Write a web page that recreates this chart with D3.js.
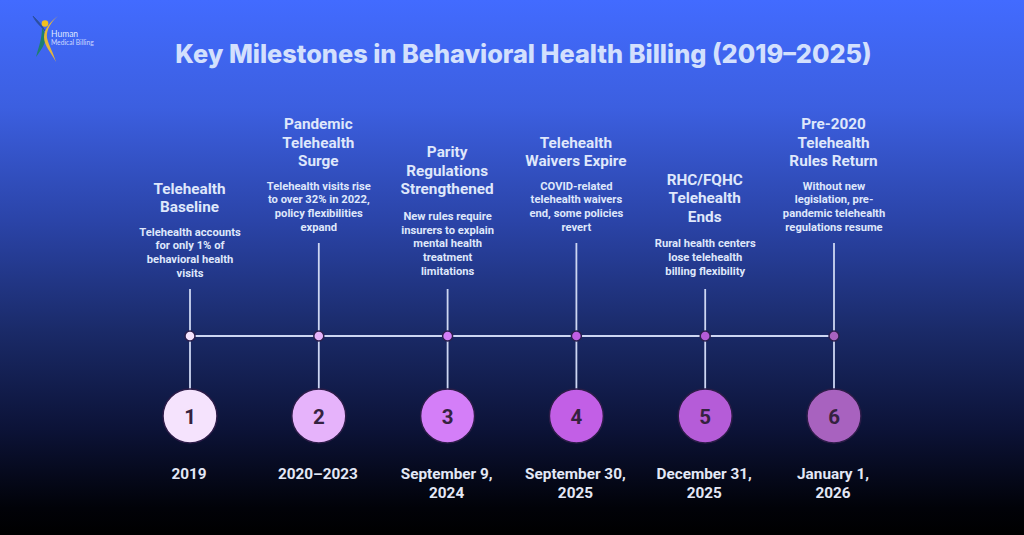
<!DOCTYPE html>
<html>
<head>
<meta charset="utf-8">
<script src="https://cdn.jsdelivr.net/npm/d3@7"></script>
<style>
  html, body { margin: 0; padding: 0; background: #000; }
  svg { display: block; }
</style>
</head>
<body>
<svg id="chart" width="1024" height="535"></svg>
<script>
const chartTitle = 'Key Milestones in Behavioral Health Billing (2019–2025)';
const steps = [1, 2, 3, 4, 5, 6];
const titles = [
  ['Telehealth', 'Baseline'],
  ['Pandemic', 'Telehealth', 'Surge'],
  ['Parity', 'Regulations', 'Strengthened'],
  ['Telehealth', 'Waivers Expire'],
  ['RHC/FQHC', 'Telehealth', 'Ends'],
  ['Pre-2020', 'Telehealth', 'Rules Return']
];
const descriptions = [
  ['Telehealth accounts', 'for only 1% of', 'behavioral health', 'visits'],
  ['Telehealth visits rise', 'to over 32% in 2022,', 'policy flexibilities', 'expand'],
  ['New rules require', 'insurers to explain', 'mental health', 'treatment', 'limitations'],
  ['COVID-related', 'telehealth waivers', 'end, some policies', 'revert'],
  ['Rural health centers', 'lose telehealth', 'billing flexibility'],
  ['Without new', 'legislation, pre-', 'pandemic telehealth', 'regulations resume']
];
const dates = [
  ['2019'],
  ['2020–2023'],
  ['September 9,', '2024'],
  ['September 30,', '2025'],
  ['December 31,', '2025'],
  ['January 1,', '2026']
];
const stepColors = ['#f5e3fd', '#e6b3fb', '#d47ef8', '#c25fe6', '#b55cd8', '#a862bf'];

const svg = d3.select('#chart');
const defs = svg.append('defs');
const bg = defs.append('linearGradient').attr('id', 'bg')
  .attr('x1', 0).attr('y1', 0).attr('x2', 0).attr('y2', 1);
[[0, '#426bff'], [0.2, '#3c5fe0'], [0.42, '#2a43a6'], [0.62, '#1a2a68'], [0.8, '#0c1338'], [0.95, '#010208'], [1, '#000']]
  .forEach(d => bg.append('stop').attr('offset', d[0]).attr('stop-color', d[1]));
svg.append('rect').attr('width', 1024).attr('height', 535).attr('fill', 'url(#bg)');

const scaleX = d3.scalePoint().domain(steps).range([190, 834]);
const axisY = 336;
const lineColor = '#cdd6f2';

// logo
const logo = svg.append('g');
logo.append('path').attr('d', 'M33 16 C38 21 42 25 45 31 C42 27 36 23 33 16 Z').attr('fill', '#2b4f9e').attr('stroke', '#2b4f9e').attr('stroke-width', 0.8);
logo.append('path').attr('d', 'M42 28 C48 36 47 43 36 57 C39 46 42 38 42 28 Z').attr('fill', '#1f7f70');
logo.append('path').attr('d', 'M58 16 C51 22 46 30 47 38 C49 46 53 52 56 62 C51 52 44 46 44 37 C44 29 51 21 58 16 Z').attr('fill', '#e5b73b');
logo.append('circle').attr('cx', 45).attr('cy', 23.5).attr('r', 3.3).attr('fill', '#f2c01e');
logo.append('text').attr('x', 51).attr('y', 36.5).attr('font-size', 8.5).attr('fill', '#dfe6ff').attr('font-family', 'Lato, sans-serif').text('Human');
logo.append('text').attr('x', 51).attr('y', 44.5).attr('font-size', 6.7).attr('fill', '#cdd8ff').attr('font-family', 'Lato, sans-serif').text('Medical Billing');

svg.append('text')
  .attr('x', 523.5).attr('y', 62.5)
  .attr('text-anchor', 'middle')
  .attr('font-family', 'Inter, sans-serif').attr('font-weight', 800).attr('font-size', 25.3)
  .attr('fill', '#d3e0fd')
  .text(chartTitle);

// horizontal line
svg.append('line')
  .attr('x1', scaleX(1)).attr('x2', scaleX(6))
  .attr('y1', axisY).attr('y2', axisY)
  .attr('stroke', lineColor).attr('stroke-width', 1.8);

const groups = svg.selectAll('.step').data(steps).enter().append('g')
  .attr('class', 'step')
  .attr('transform', d => `translate(${scaleX(d)},0)`);

// connector up (alternate heights) and down to the number circle
const connectorTop = i => (i % 2 === 0 ? 289 : 243);
const descBottom = [273, 227, 271, 227, 271, 227];
const titleGap = [25, 25, 27, 25, 27, 25];
groups.append('line')
  .attr('y1', (d, i) => connectorTop(i)).attr('y2', 390)
  .attr('stroke', lineColor).attr('stroke-width', 1.8);

groups.append('circle')
  .attr('cy', axisY).attr('r', 5)
  .attr('fill', (d, i) => stepColors[i])
  .attr('stroke', '#2a1f4d').attr('stroke-width', 1.5);

groups.append('circle')
  .attr('cy', 416).attr('r', 27)
  .attr('fill', (d, i) => stepColors[i])
  .attr('stroke', '#2c1c48').attr('stroke-width', 1.5);

groups.append('text')
  .attr('y', 417).attr('dy', '0.36em')
  .attr('text-anchor', 'middle')
  .attr('font-family', 'Roboto, sans-serif').attr('font-weight', 700).attr('font-size', 20.5)
  .attr('fill', '#35223f')
  .text(d => d);

// stacked text, bottom anchored above each connector
groups.each(function (d, i) {
  const g = d3.select(this);
  const desc = descriptions[i];
  const ttl = titles[i];
  const firstDesc = descBottom[i] - (desc.length - 1) * 13.75;
  const lastTitle = firstDesc - titleGap[i];

  desc.forEach((line, k) => {
    g.append('text')
      .attr('y', firstDesc + k * 13.75).attr('dy', '0.35em')
      .attr('text-anchor', 'middle')
      .attr('font-family', 'Roboto, sans-serif').attr('font-weight', 700).attr('font-size', 11.2)
      .attr('fill', '#dfe7fb')
      .text(line);
  });
  ttl.forEach((line, k) => {
    g.append('text')
      .attr('x', -0.5)
      .attr('y', lastTitle - (ttl.length - 1 - k) * 18.5).attr('dy', '0.35em')
      .attr('text-anchor', 'middle')
      .attr('font-family', 'Roboto, sans-serif').attr('font-weight', 700).attr('font-size', 15.3)
      .attr('fill', '#dfe7fb')
      .text(line);
  });
  dates[i].forEach((line, k) => {
    g.append('text')
      .attr('x', -1)
      .attr('y', 474 + k * 18.5).attr('dy', '0.35em')
      .attr('text-anchor', 'middle')
      .attr('font-family', 'Roboto, sans-serif').attr('font-weight', 700).attr('font-size', 15.3)
      .attr('fill', '#e3e8f6')
      .text(line);
  });
});
</script>
</body>
</html>
